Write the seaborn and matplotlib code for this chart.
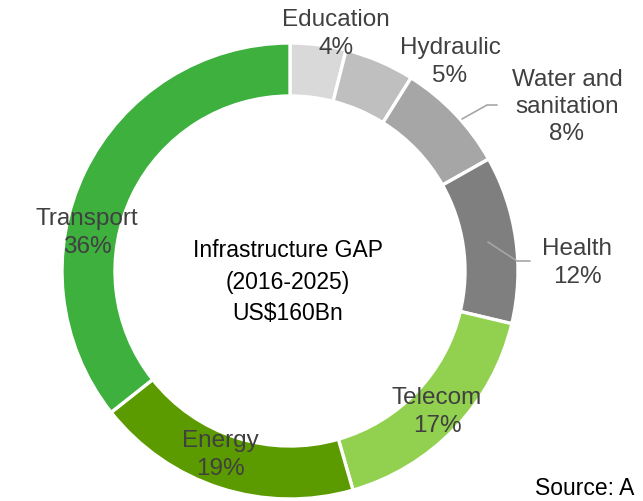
import matplotlib
matplotlib.use("Agg")
import matplotlib.pyplot as plt
import seaborn as sns

sns.set_theme(style="white")
plt.rcParams['font.family'] = ['Liberation Sans', 'DejaVu Sans']

categories = ["Education", "Hydraulic", "Water and\nsanitation", "Health", "Telecom", "Energy", "Transport"]
shares = [4, 5, 8, 12, 17, 19, 36]
colors = ["#d9d9d9", "#bfbfbf", "#a6a6a6", "#7f7f7f", "#92d050", "#5b9b00", "#3db03d"]

W, H = 643, 502
fig = plt.figure(figsize=(W / 100, H / 100), dpi=100)
ax = fig.add_axes([0, 0, 1, 1])

def Y(py):
    return H - py

cx, cy, R, width = 290, 272, 228, 53
ax.pie(shares, colors=colors, startangle=90, counterclock=False,
       center=(cx, Y(cy)), radius=R,
       wedgeprops=dict(width=width, edgecolor="white", linewidth=2.4))
ax.set_xlim(0, W)
ax.set_ylim(0, H)
ax.set_aspect("auto")
ax.axis("off")

label_pos = [(336, 34), (450, 62), (567, 107), (577, 263), (437, 412), (220, 455), (87, 233)]
for name, val, (px, py) in zip(categories, shares, label_pos):
    ax.text(px, Y(py), f"{name}\n{val}%", ha="center", va="center",
            fontsize=17.5, color="#404040", linespacing=1.32)

# leader lines
ax.plot([462, 487, 497], [Y(120), Y(106), Y(106)], color="#a6a6a6", lw=1.2)
ax.plot([488, 517, 530], [Y(243), Y(262), Y(262)], color="#a6a6a6", lw=1.2)

ax.text(288, Y(282), "Infrastructure GAP\n(2016-2025)\nUS$160Bn", ha="center", va="center",
        fontsize=16.5, color="black", linespacing=1.45)

ax.text(535, Y(489), "Source: A", ha="left", va="center", fontsize=16.5, color="black")

fig.savefig("out.png", dpi=100)
